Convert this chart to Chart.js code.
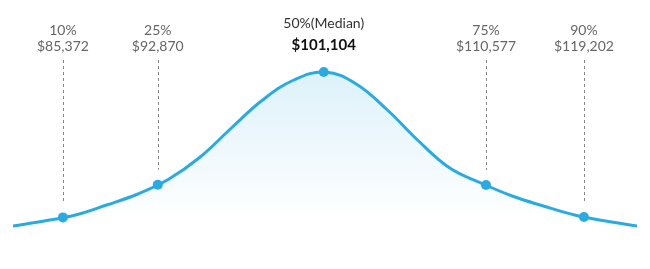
<!DOCTYPE html>
<html>
<head>
<meta charset="utf-8">
<script src="https://cdn.jsdelivr.net/npm/chart.js@4/dist/chart.umd.min.js"></script>
<style>
  html, body { margin: 0; padding: 0; background: #fff; }
</style>
</head>
<body>
<canvas id="chart" width="650" height="269"></canvas>
<script>
// bell curve (x: 0-100 across, y: height)
const curveX = [0, 5, 10, 15, 20, 25, 30, 35, 40, 45, 50, 55, 60, 65, 70, 75, 80, 85, 90, 95, 100];
const curveY = [7, 9.5, 12.5, 17.5, 23, 30.5, 41.5, 56, 70, 80, 84, 78, 65, 49.5, 36, 28.5, 22, 17, 12.5, 9.5, 7];

// percentile markers
const pctLabels = ['10%', '25%', '50%(Median)', '75%', '90%'];
const pctSalaries = ['$85,372', '$92,870', '$101,104', '$110,577', '$119,202'];
const pctX = [8.0, 23.2, 49.8, 75.8, 91.5];
const pctY = [11.3, 27.6, 84, 27.5, 11.5];

const blue = '#29abe2';
const medianIndex = 2;

const percentilePlugin = {
  id: 'percentiles',
  beforeDatasetsDraw(chart) {
    const { ctx, scales } = chart;
    ctx.save();
    ctx.strokeStyle = '#888';
    ctx.lineWidth = 1;
    ctx.setLineDash([3, 3]);
    pctX.forEach((x, i) => {
      if (i === medianIndex) return;
      const px = Math.round(scales.x.getPixelForValue(x)) + 0.5;
      const py = scales.y.getPixelForValue(pctY[i]);
      ctx.beginPath();
      ctx.moveTo(px, 60);
      ctx.lineTo(px, py - 15);
      ctx.stroke();
    });
    ctx.restore();
  },
  afterDraw(chart) {
    const { ctx, scales } = chart;
    ctx.save();
    ctx.textAlign = 'center';
    ctx.textBaseline = 'alphabetic';
    pctX.forEach((x, i) => {
      const px = scales.x.getPixelForValue(x);
      if (i === medianIndex) {
        ctx.fillStyle = '#333';
        ctx.font = '14px Lato';
        ctx.fillText(pctLabels[i], px, 28);
        ctx.fillStyle = '#111';
        ctx.font = 'bold 15px Lato';
        ctx.fillText(pctSalaries[i], px, 50);
      } else {
        ctx.fillStyle = '#666';
        ctx.font = '14px Lato';
        ctx.fillText(pctLabels[i], px, 35);
        ctx.fillText(pctSalaries[i], px, 51);
      }
    });
    ctx.restore();
  }
};

const ctx = document.getElementById('chart').getContext('2d');
new Chart(ctx, {
  type: 'line',
  data: {
    datasets: [
      {
        data: curveX.map((x, i) => ({ x: x, y: curveY[i] })),
        borderColor: blue,
        borderWidth: 3,
        pointRadius: 0,
        tension: 0.4,
        fill: 'origin',
        backgroundColor: (context) => {
          const chart = context.chart;
          if (!chart.chartArea) return 'transparent';
          const top = chart.scales.y.getPixelForValue(84);
          const bottom = chart.scales.y.getPixelForValue(10);
          const g = chart.ctx.createLinearGradient(0, top, 0, bottom);
          g.addColorStop(0, 'rgba(41,171,226,0.16)');
          g.addColorStop(1, 'rgba(41,171,226,0)');
          return g;
        },
        order: 2
      },
      {
        data: pctX.map((x, i) => ({ x: x, y: pctY[i] })),
        showLine: false,
        pointRadius: 5,
        pointBackgroundColor: blue,
        pointBorderColor: blue,
        pointBorderWidth: 0,
        order: 1
      }
    ]
  },
  options: {
    responsive: false,
    animation: false,
    layout: { padding: { left: 13, right: 13, top: 40, bottom: 29 } },
    scales: {
      x: { type: 'linear', min: 0, max: 100, display: false },
      y: { min: 0, max: 100, display: false }
    },
    plugins: {
      legend: { display: false },
      tooltip: { enabled: false }
    }
  },
  plugins: [percentilePlugin]
});
</script>
</body>
</html>
